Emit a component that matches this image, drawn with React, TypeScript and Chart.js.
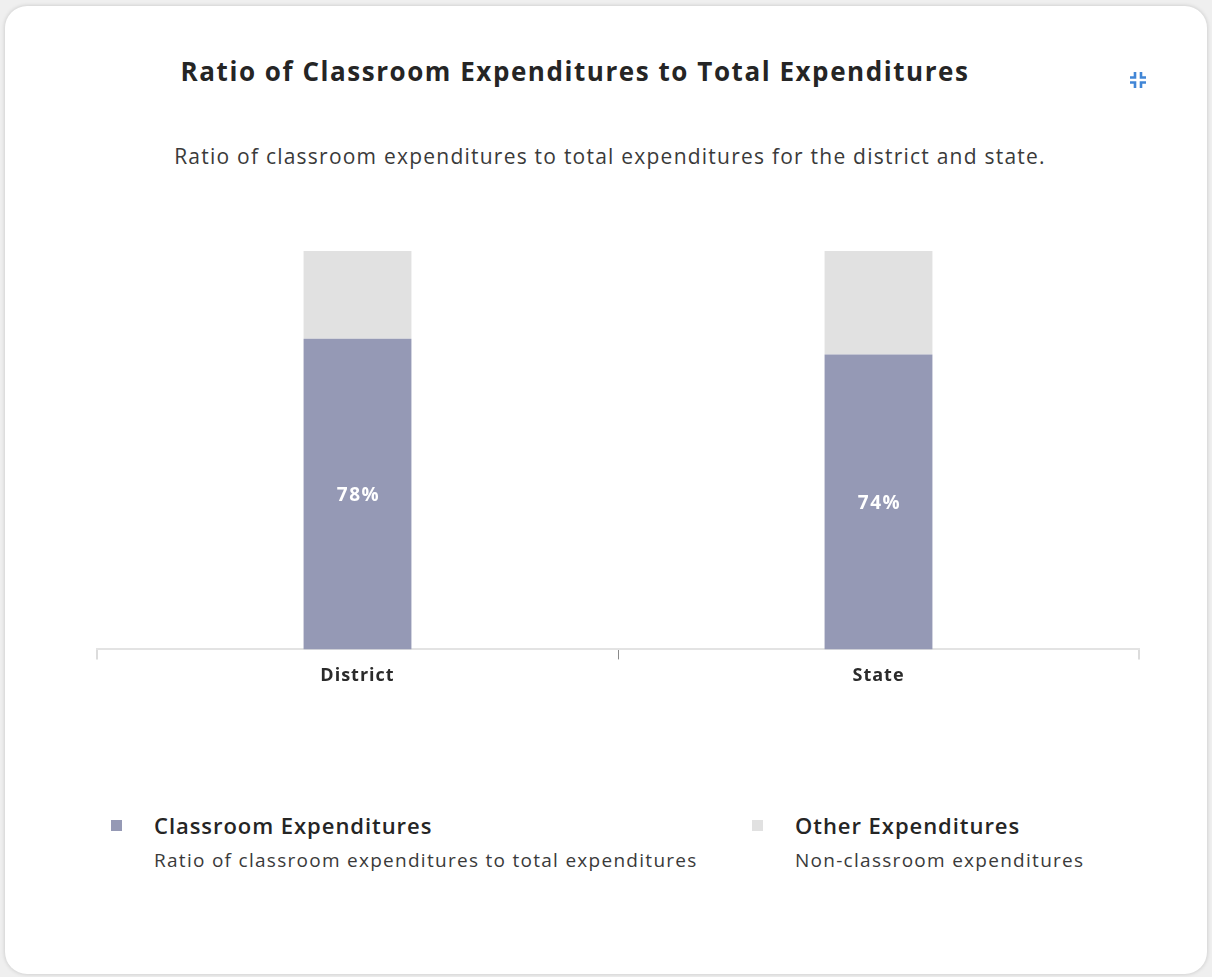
import React, { useEffect, useRef } from "react";
import { Chart, registerables } from "chart.js";

Chart.register(...registerables);

const categories = ["District", "State"];
const classroomValues = [78, 74];
const otherValues = [22, 26];
const valueLabels = ["78%", "74%"];
const seriesNames = ["Classroom Expenditures", "Other Expenditures"];
const seriesDescriptions = [
  "Ratio of classroom expenditures to total expenditures",
  "Non-classroom expenditures",
];
const seriesColors = ["#9599b5", "#e1e1e1"];

const FONT = "'Open Sans', 'Noto Sans', sans-serif";

const spacingPlugin = {
  id: "letterSpacing",
  beforeLayout(chart: any) {
    (chart.ctx as any).letterSpacing = "1px";
  },
  beforeDraw(chart: any) {
    (chart.ctx as any).letterSpacing = "1px";
  },
};

const barLabelPlugin = {
  id: "barLabels",
  afterDatasetsDraw(chart: any) {
    const meta = chart.getDatasetMeta(0);
    const ctx = chart.ctx;
    ctx.save();
    (ctx as any).letterSpacing = "1.5px";
    ctx.fillStyle = "#ffffff";
    ctx.font = `bold 19px ${FONT}`;
    ctx.textAlign = "center";
    ctx.textBaseline = "middle";
    meta.data.forEach((bar: any, i: number) => {
      const y = (bar.y + bar.base) / 2;
      ctx.fillText(valueLabels[i], bar.x + 1, y + 2);
    });
    ctx.restore();
  },
};

function ChartCanvas() {
  const ref = useRef<HTMLCanvasElement | null>(null);
  useEffect(() => {
    if (!ref.current) return;
    const chart = new Chart(ref.current, {
      type: "bar",
      data: {
        labels: categories,
        datasets: [
          {
            label: seriesNames[0],
            data: classroomValues,
            backgroundColor: seriesColors[0],
            barPercentage: 0.207,
            categoryPercentage: 1,
          },
          {
            label: seriesNames[1],
            data: otherValues,
            backgroundColor: seriesColors[1],
            barPercentage: 0.207,
            categoryPercentage: 1,
          },
        ],
      },
      options: {
        animation: false,
        responsive: false,
        maintainAspectRatio: false,
        layout: { padding: { left: 10, right: 10, top: 10, bottom: 10 } },
        plugins: {
          legend: { display: false },
          tooltip: { enabled: false },
          title: { display: false },
        },
        scales: {
          x: {
            stacked: true,
            grid: {
              drawOnChartArea: false,
              drawTicks: true,
              tickLength: 10,
              offset: true,
              color: (c: any) => (c.index === 1 ? "#8a8a8a" : "#dcdcdc"),
              lineWidth: (c: any) => (c.index === 1 ? 1 : 2),
            },
            border: { display: true, color: "#e3e3e3", width: 2 },
            ticks: {
              color: "#2b2b2b",
              font: { family: FONT, size: 18, weight: "bold" },
              padding: 6,
            },
          },
          y: {
            stacked: true,
            display: false,
            min: 0,
            max: 100,
          },
        },
      },
      plugins: [spacingPlugin, barLabelPlugin],
    });
    return () => chart.destroy();
  }, []);
  return (
    <canvas
      ref={ref}
      width={1062}
      height={462}
      style={{ position: "absolute", left: 87, top: 241, width: 1062, height: 462 }}
    />
  );
}

function CollapseIcon() {
  const c = "#4186d6";
  return (
    <svg
      width="22"
      height="22"
      viewBox="0 0 22 22"
      style={{ position: "absolute", left: 1127, top: 69 }}
    >
      <path d="M8 3 V8.5 H3" stroke={c} strokeWidth="2.6" fill="none" />
      <path d="M14 3 V8.5 H19" stroke={c} strokeWidth="2.6" fill="none" />
      <path d="M8 19 V13.5 H3" stroke={c} strokeWidth="2.6" fill="none" />
      <path d="M14 19 V13.5 H19" stroke={c} strokeWidth="2.6" fill="none" />
    </svg>
  );
}

export default function App() {
  const legendX = [111, 752];
  const textX = [154, 795];
  return (
    <div
      style={{
        position: "fixed",
        left: 0,
        top: 0,
        width: 1212,
        height: 977,
        background: "#efefef",
        overflow: "hidden",
        fontFamily: FONT,
      }}
    >
      <div
        style={{
          position: "absolute",
          left: 5,
          top: 6,
          width: 1202,
          height: 968,
          background: "#ffffff",
          borderRadius: 22,
          boxShadow: "0 0 4px rgba(0,0,0,0.18)",
        }}
      />
      <div
        style={{
          position: "absolute",
          left: 75,
          width: 1000,
          top: 53,
          textAlign: "center",
          fontSize: 26,
          fontWeight: 700,
          color: "#252525",
          lineHeight: "36px",
          letterSpacing: "1.55px",
        }}
      >
        Ratio of Classroom Expenditures to Total Expenditures
      </div>
      <CollapseIcon />
      <div
        style={{
          position: "absolute",
          left: 56,
          width: 1108,
          top: 141,
          textAlign: "center",
          fontSize: 21,
          color: "#3a3a3a",
          lineHeight: "30px",
          letterSpacing: "1.23px",
        }}
      >
        Ratio of classroom expenditures to total expenditures for the district and state.
      </div>
      <ChartCanvas />
      {seriesNames.map((name, i) => (
        <React.Fragment key={name}>
          <div
            style={{
              position: "absolute",
              left: legendX[i],
              top: 820,
              width: 11,
              height: 11,
              background: seriesColors[i],
            }}
          />
          <div
            style={{
              position: "absolute",
              left: textX[i],
              top: 809,
              fontSize: 22,
              fontWeight: 600,
              color: "#252525",
              lineHeight: "32px",
              whiteSpace: "nowrap",
              letterSpacing: "0.95px",
            }}
          >
            {name}
          </div>
          <div
            style={{
              position: "absolute",
              left: textX[i],
              top: 846,
              fontSize: 19,
              color: "#3a3a3a",
              lineHeight: "28px",
              whiteSpace: "nowrap",
              letterSpacing: "1.28px",
            }}
          >
            {seriesDescriptions[i]}
          </div>
        </React.Fragment>
      ))}
    </div>
  );
}
